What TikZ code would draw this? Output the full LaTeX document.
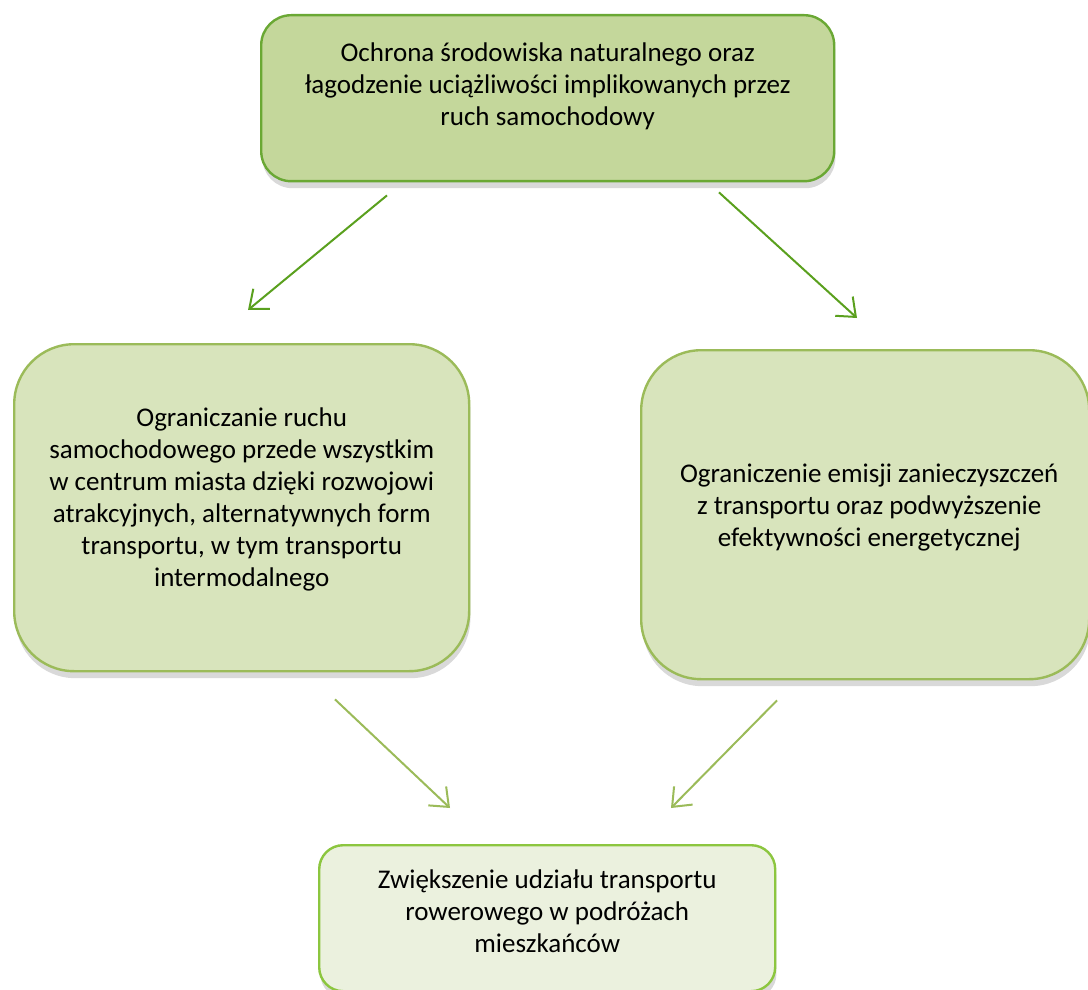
\documentclass[tikz,border=0pt]{standalone}
\usepackage{fontspec}
\setmainfont{Carlito}
\usetikzlibrary{arrows.meta,shadows}
\definecolor{topfill}{HTML}{C4D79B}
\definecolor{topline}{HTML}{6AA834}
\definecolor{midfill}{HTML}{D8E4BC}
\definecolor{midline}{HTML}{9BBB59}
\definecolor{botfill}{HTML}{EBF1DE}
\definecolor{botline}{HTML}{8CC63F}
\definecolor{arrdark}{HTML}{5AA01E}
\tikzset{
  box/.style={draw, line width=1.2pt, anchor=north west, inner sep=0pt,
    drop shadow={opacity=0.3, shadow xshift=0.6pt, shadow yshift=-3.5pt}},
  txt/.style={align=center, font=\fontsize{13.5}{16}\selectfont},
  arr/.style={line width=1pt, -{Straight Barb[length=8pt,width=13pt,line width=1pt]}}
}
\begin{document}
\begin{tikzpicture}[x=0.5pt,y=-0.5pt]
\useasboundingbox (0,0) rectangle (1088,990);
\node[box, fill=topfill, draw=topline, rounded corners=15pt,
  minimum width=286.5pt, minimum height=83pt] (goal) at (260,14) {};
\node[box, fill=midfill, draw=midline, rounded corners=30pt,
  minimum width=227.5pt, minimum height=163.5pt] (left) at (13,343) {};
\node[box, fill=midfill, draw=midline, rounded corners=30pt,
  minimum width=224pt, minimum height=164.5pt] (right) at (640,349) {};
\node[box, fill=botfill, draw=botline, rounded corners=12pt,
  minimum width=228pt, minimum height=73pt] (bike) at (318,844) {};
\node[txt] (goaltxt) at ([yshift=6pt]goal.center)
  {Ochrona środowiska naturalnego oraz\\łagodzenie uciążliwości implikowanych przez\\ruch samochodowy};
\node[txt] (lefttxt) at ([yshift=4pt]left.center)
  {Ograniczanie ruchu\\samochodowego przede wszystkim\\w centrum miasta dzięki rozwojowi\\atrakcyjnych, alternatywnych form\\transportu, w tym transportu\\intermodalnego};
\node[txt] (righttxt) at ([xshift=2pt,yshift=3.5pt]right.center)
  {Ograniczenie emisji zanieczyszczeń\\z transportu oraz podwyższenie\\efektywności energetycznej};
\node[txt] (biketxt) at ([yshift=3.5pt]bike.center)
  {Zwiększenie udziału transportu\\rowerowego w podróżach\\mieszkańców};
\draw[arr, arrdark]([shift={(127,13)}]goal.south west)--([shift={(235,-33)}]left.north west);
\draw[arr, arrdark]([shift={(459,10)}]goal.south west)--([shift={(217,-31)}]right.north west);
\draw[arr, midline]([shift={(322,27)}]left.south west)--([shift={(132,-36)}]bike.north west);
\draw[arr, midline]([shift={(137,20)}]right.south west)--([shift={(353,-36)}]bike.north west);
\end{tikzpicture}
\end{document}
